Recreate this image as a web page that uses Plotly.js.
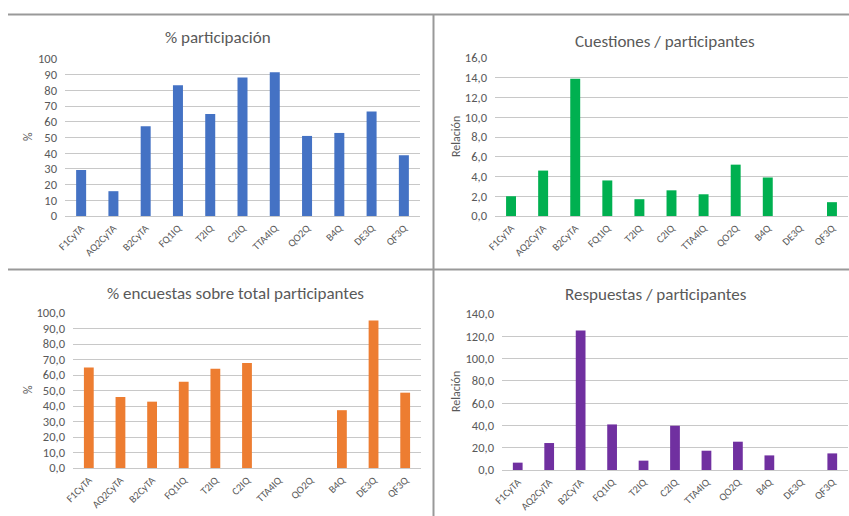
<!DOCTYPE html>
<html>
<head>
<meta charset="utf-8">
<script src="https://cdn.plot.ly/plotly-3.0.1.min.js"></script>
<style>html,body{margin:0;padding:0;background:#fff;}#chart{width:849px;height:516px;}</style>
</head>
<body>
<div id="chart"></div>
<script>
const categories = ["F1CyTA","AQ2CyTA","B2CyTA","FQ1IQ","T2IQ","C2IQ","TTA4IQ","QO2Q","B4Q","DE3Q","QF3Q"];
const participacion = [29.3, 15.8, 57.2, 83.3, 64.9, 88.2, 91.5, 51.0, 52.9, 66.6, 38.7];
const cuestiones = [2.0, 4.6, 13.9, 3.6, 1.7, 2.6, 2.2, 5.2, 3.9, 0, 1.4];
const encuestas = [64.9, 45.8, 42.8, 55.7, 64.1, 67.8, 0, 0, 37.3, 95.2, 48.6];
const respuestas = [6.6, 24.2, 125.1, 40.9, 8.4, 39.7, 17.3, 25.4, 13.1, 0, 14.9];

const titles = ["% participación","Cuestiones / participantes","% encuestas sobre total participantes","Respuestas / participantes"];
const yTitles = ["%","Relación","%","Relación"];

const W = 849, H = 516;
const px = x => x / W;
const py = y => (H - y) / H;

const FONT = "Calibri, Carlito, 'Open Sans', sans-serif";
const GRID = "#c8c8c8";
const TXT = "#595959";

const traces = [
  {x: categories, y: participacion, type: "bar", marker: {color: "#4472C4"}, xaxis: "x", yaxis: "y"},
  {x: categories, y: cuestiones, type: "bar", marker: {color: "#00B050"}, xaxis: "x2", yaxis: "y2"},
  {x: categories, y: encuestas, type: "bar", marker: {color: "#ED7D31"}, xaxis: "x3", yaxis: "y3"},
  {x: categories, y: respuestas, type: "bar", marker: {color: "#7030A0"}, xaxis: "x4", yaxis: "y4"}
];

function xa(x0, x1, anchor) {
  return {domain: [px(x0), px(x1)], anchor: anchor, type: "category", tickangle: -45,
    tickfont: {size: 10.5, color: TXT, family: FONT}, showgrid: false, showline: true,
    linecolor: GRID, linewidth: 1, ticks: "", ticklabelstandoff: 1, fixedrange: true, automargin: false};
}
function ya(y0, y1, anchor, range, dtick, fmt) {
  return {domain: [py(y1), py(y0)], anchor: anchor, range: range, dtick: dtick, tickformat: fmt,
    tickfont: {size: 12.5, color: TXT, family: FONT}, showgrid: true, gridcolor: GRID, gridwidth: 1,
    zeroline: false, showline: false, ticks: "", ticklen: 0, ticklabelstandoff: 7,
    fixedrange: true, automargin: false};
}

const annotations = [
  {text: titles[0], x: px(218), y: py(37)},
  {text: titles[1], x: px(665), y: py(41)},
  {text: titles[2], x: px(236), y: py(293)},
  {text: titles[3], x: px(656), y: py(294)}
].map(a => Object.assign(a, {xref: "paper", yref: "paper", showarrow: false, xanchor: "center", yanchor: "middle",
  font: {size: 17, color: TXT, family: FONT}}));

[[28, 137, yTitles[0]], [456, 137, yTitles[1]], [28, 390, yTitles[2]], [456, 392, yTitles[3]]].forEach(([x, y, t]) => {
  annotations.push({text: t, x: px(x), y: py(y), xref: "paper", yref: "paper", showarrow: false,
    textangle: -90, xanchor: "center", yanchor: "middle", font: {size: 12, color: TXT, family: FONT}});
});

const LINE = {color: "#999999", width: 2};
const shapes = [
  {type: "line", xref: "paper", yref: "paper", x0: px(8), x1: px(849), y0: py(14.5), y1: py(14.5), line: LINE},
  {type: "line", xref: "paper", yref: "paper", x0: px(8), x1: px(849), y0: py(269.5), y1: py(269.5), line: LINE},
  {type: "line", xref: "paper", yref: "paper", x0: px(433.5), x1: px(433.5), y0: py(14), y1: py(516), line: LINE}
];

const layout = {
  width: W, height: H, margin: {l: 0, r: 0, t: 0, b: 0},
  paper_bgcolor: "#fff", plot_bgcolor: "#fff",
  showlegend: false, bargap: 0.69, separators: ",.",
  font: {family: FONT, color: TXT},
  xaxis: xa(65, 420, "y"), yaxis: ya(59, 216, "x", [0, 100], 10, "d"),
  xaxis2: xa(495, 848, "y2"), yaxis2: ya(58, 216, "x2", [0, 16], 2, ".1f"),
  xaxis3: xa(73, 421, "y3"), yaxis3: ya(313, 468, "x3", [0, 100], 10, ".1f"),
  xaxis4: xa(502, 848, "y4"), yaxis4: ya(314, 470, "x4", [0, 140], 20, ".1f"),
  annotations: annotations, shapes: shapes
};

Plotly.newPlot("chart", traces, layout, {displayModeBar: false, staticPlot: true});
</script>
</body>
</html>
